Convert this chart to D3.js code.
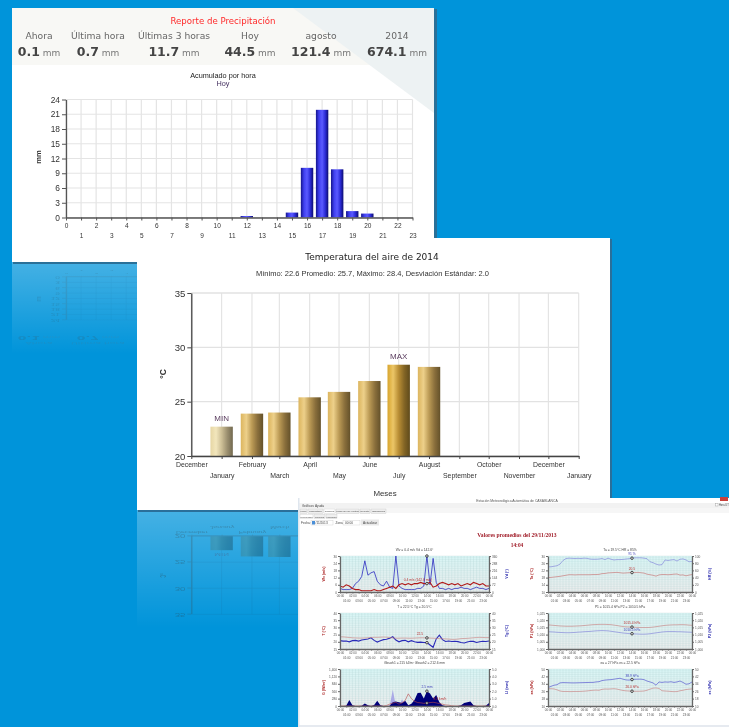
<!DOCTYPE html>
<html>
<head>
<meta charset="utf-8">
<script src="https://cdnjs.cloudflare.com/ajax/libs/d3/7.8.5/d3.min.js"></script>
<style>
html, body { margin: 0; padding: 0; background: #0094da; overflow: hidden; }
svg { display: block; font-family: "Liberation Sans", Arial, sans-serif; filter: blur(0.35px); }
</style>
</head>
<body>
<div id="my_dataviz"></div>
<script>
// precipitation report
var rain_labels = ["Ahora", "Última hora", "Últimas 3 horas", "Hoy", "agosto", "2014"];
var rain_totals = ["0.1", "0.7", "11.7", "44.5", "121.4", "674.1"];
var rain_hours = [12, 15, 16, 17, 18, 19, 20];
var rain_values = [0.3, 1.0, 10.1, 21.9, 9.8, 1.3, 0.8];
var rain_y_ticks = [0, 3, 6, 9, 12, 15, 18, 21, 24];

// air temperature
var temp_tick_dates = ["2013-12-01", "2014-01-01", "2014-02-01", "2014-03-01", "2014-04-01", "2014-05-01", "2014-06-01",
  "2014-07-01", "2014-08-01", "2014-09-01", "2014-10-01", "2014-11-01", "2014-12-01", "2015-01-01"];
var temp_tick_labels = ["December", "January", "February", "March", "April", "May", "June",
  "July", "August", "September", "October", "November", "December", "January"];
var temp_dates = ["2014-01-01", "2014-02-01", "2014-03-01", "2014-04-01", "2014-05-01", "2014-06-01", "2014-07-01", "2014-08-01"];
var temp_values = [22.7, 23.9, 24.0, 25.4, 25.9, 26.9, 28.4, 28.2];
var temp_y_ticks = [20, 25, 30, 35];

// screenshot charts, one reading every half hour from 00:00 to 24:00
var wind_speed = [5,4,6,5,3,2,2,1,1,1,1,2,1,1,2,3,4,5,3,6,7,6,7,6,7,7,8,7,7,8,4,5,7,8,7,6,7,6,7,5,6,7,6,8,7,6,7,5,5];
var wind_dir = [36,24,24,24,36,84,108,156,312,168,192,204,108,72,60,108,48,36,360,60,36,24,24,24,24,36,36,60,360,72,336,96,36,36,24,36,24,36,36,48,36,36,24,36,48,36,36,24,36];
var air_temp = [18,18.1,18.3,18.5,18.7,19,19.3,19.6,19.6,19.5,19.6,19.6,19.6,19.6,19.6,19.7,19.7,19.8,20.2,20.3,20.6,20.7,20.8,20.9,20.7,20.5,20.6,20.7,20.8,20.8,20.9,20.7,20.5,19.9,19.6,19.3,18.8,19.5,19.7,19.7,19.6,19.7,19.9,20,19.4,19.5,19,19.4,19.7];
var humidity = [70,70,71.5,73,77.5,87.5,93,94,93.5,93,93.5,93,94,93.5,91.5,91,91,91.5,93,90,94,91,89,90,90,90.5,91.5,92.5,94,95,95,95,94,92.5,84,81.5,77.5,75,76,89,87.5,89,90,86,91,92,89,84,85];
var glass_temp = [23.4,23.4,23.2,23,22.8,22.7,22.6,22.6,22.7,22.8,23,23.1,23.1,23.2,23.3,23.2,23,22.7,22.5,22.5,22.6,22.6,22.5,22.5,22.6,22.7,22.8,22.8,22.7,22.6,22.5,22.4,22.2,22.1,22,21.9,21.7,21.7,21.9,22.2,22.3,22.4,22.6,22.8,23,23.1,23,22.9,22.9];
var glass_hum = [20.8,20.5,20.6,20,20.8,21,20.5,21.2,21.6,22,22.8,21,19.8,20.8,21.5,21.8,22.5,23.5,21.2,20,20.8,21,20,20.8,20,19.6,19.8,19.5,19.4,17.8,16.2,22,24.6,21.5,20.2,20.5,20.2,20.4,20.1,19.5,19.2,19.8,20.4,20.3,19.5,20,20.4,20.2,20.6];
var press_one = [1016.8,1016.6,1016.4,1016.2,1016,1015.9,1015.8,1015.8,1015.8,1015.9,1016,1016.1,1016.3,1016.5,1016.7,1016.9,1017,1017.1,1017.1,1017.1,1017,1016.9,1016.6,1016.3,1015.9,1015.6,1015.4,1015.3,1015.2,1015.1,1015,1014.9,1014.9,1014.9,1015,1015.2,1015.5,1015.8,1016.1,1016.4,1016.6,1016.7,1016.8,1016.8,1016.9,1016.9,1016.8,1016.6,1016.5];
var press_two = [1012,1011.9,1011.8,1011.6,1011.5,1011.4,1011.3,1011.3,1011.4,1011.5,1011.7,1011.8,1012,1012.1,1012.2,1012.4,1012.6,1012.7,1012.8,1012.7,1012.6,1012.3,1012,1011.7,1011.4,1011.1,1010.9,1010.7,1010.6,1010.5,1010.4,1010.3,1010.3,1010.4,1010.6,1010.9,1011.2,1011.5,1011.8,1012,1012.1,1012.1,1012.1,1012,1012,1011.9,1011.8,1011.7,1011.6];
var solar_rad = [0,0,0,0,0,0,0,0,0,0,0,0,0,0,0,20,70,110,140,70,120,210,460,280,180,130,120,100,110,130,140,120,90,70,40,30,10,0,0,0,0,0,0,0,0,0,0,0,0];
var rain_rate = [0,0,0.05,0.8,0.1,0,0,0.05,0.35,0.1,0,0.15,0.7,0.1,0,0,0.05,0.5,0.6,0.5,0.4,0.7,0.1,0.3,0.8,1.75,1.8,1,2,1.7,1,1.5,0.5,0.1,0,0,0,0,0,0.1,0.4,0.5,0.6,0.1,0,0,0,0.05,0.4];
var rain_gust = [0,0,0,0,0,0,0,0,0,0,0,0,0,0,0,0,0,2.2,0,0,0.9,0,0,0,0,0,0,0,0,0,0,0,0,0,0,0,0,0,0,0,0,0,0,0,0,0,0,0,0];
var vap_act = [28.7,28.7,28.5,27.5,26.2,25.7,25.7,25.6,25.6,25.7,25.7,25.8,26,26.3,26.7,27,27.2,27,28,28.4,28.3,28.5,28.7,28.3,27.5,26.8,26.4,26.2,26,25.9,25.9,26,26.2,27,28.2,29.3,29.5,29,26.5,26.2,26,25.7,25.5,25.6,26.5,27,27.8,28.2,28.5];
var vap_sat = [30,31.2,32.5,33,35,35.3,35.2,35.1,35,35,35.1,35.2,35.3,35.4,35.5,35.5,36,36.3,37.5,38,38.3,38.5,39,39.5,40,39,38.2,38,38.6,38.9,39,39,38.5,37,36,35,32.5,36,35.5,36,35.8,36.2,35.5,36,37,35.5,33.5,34,36];

var mini_titles = ["Wv = 0.4 m/s  Vd = 142.6°", "Ta = 19.5°C  HR = 85%", "T = 22.5°C  Tg = 20.5°C", "P1 = 1015.4 hPa  P2 = 1010.5 hPa", "Gbuoh1 = 215 kJ/m²  Gbuoh2 = 212.6 mm", "ea = 27 hPa  es = 22.5 hPa"];
var mini_hours = ["00:00","01:00","02:00","03:00","04:00","05:00","06:00","07:00","08:00","09:00","10:00","11:00","12:00","13:00","14:00","15:00","16:00","17:00","18:00","19:00","20:00","21:00","22:00","23:00","00:00"];
var tab_labels = ["Inicio", "Laboratorio", "Gráficos", "Mapa de los Vientos", "Reporte", "Información"];
var subtab_labels = ["Promedios", "Mínimos", "Máximos"];

var svg = d3.select("#my_dataviz").append("svg").attr("width", 729).attr("height", 727);
var defs = svg.append("defs");

function barGradient(id, colors) {
  var g = defs.append("linearGradient").attr("id", id);
  colors.forEach(function (c, i) {
    g.append("stop").attr("offset", (i / (colors.length - 1) * 100) + "%").attr("stop-color", c);
  });
}
barGradient("blue_bar", ["#14148c", "#3f3ff0", "#5a5aff", "#2c2cd8", "#0c0c70"]);
barGradient("gold_bar", ["#dcb55e", "#edd08a", "#bb9a55", "#8a6f3c", "#64512a"]);
barGradient("gold_min", ["#e6d6a4", "#f2e6bc", "#cdbf96", "#9c9070", "#72694f"]);
barGradient("gold_max", ["#d8a52d", "#ecc667", "#b88d34", "#836525", "#5f4a1b"]);
barGradient("mirror_bar", ["#4c6a5a", "#5a7a68", "#30483c", "#1a2c28", "#0c1c20"]);

var glow = defs.append("linearGradient").attr("id", "glow").attr("x2", 0).attr("y2", 1);
glow.append("stop").attr("offset", "0%").attr("stop-color", "#fff").attr("stop-opacity", 0.27);
glow.append("stop").attr("offset", "100%").attr("stop-color", "#fff").attr("stop-opacity", 0);

var plot_bg = defs.append("linearGradient").attr("id", "plot_bg").attr("x2", 0).attr("y2", 1);
plot_bg.append("stop").attr("offset", "0%").attr("stop-color", "#dcf8f8");
plot_bg.append("stop").attr("offset", "100%").attr("stop-color", "#efefef");

function cleanAxis(a, color) {
  a.selectAll("path").attr("stroke", color).attr("stroke-width", 1.3);
  a.selectAll("line").attr("stroke", color);
  a.selectAll("text").attr("fill", "#333").attr("font-family", "inherit");
}

// ---- report with the hourly rain bars
function drawPrecip(g) {
  var col_x = [39, 98, 174, 250, 321, 397];

  g.selectAll(".rl").data(rain_labels).enter().append("text")
    .attr("x", function (d, i) { return col_x[i]; }).attr("y", 39).attr("text-anchor", "middle")
    .attr("font-family", "DejaVu Sans").attr("font-size", 9.2).attr("fill", "#666").text(function (d) { return d; });

  var vals = g.selectAll(".rv").data(rain_totals).enter().append("text")
    .attr("x", function (d, i) { return col_x[i]; }).attr("y", 56).attr("text-anchor", "middle")
    .attr("font-family", "DejaVu Sans").attr("fill", "#444");
  vals.append("tspan").attr("font-size", 12.5).attr("font-weight", "bold").text(function (d) { return d; });
  vals.append("tspan").attr("font-size", 9).attr("fill", "#777").text(" mm");

  g.append("text").attr("x", 223).attr("y", 23.5).attr("text-anchor", "middle").attr("font-family", "DejaVu Sans")
    .attr("font-size", 8.6).attr("fill", "#ff2a2a").text("Reporte de Precipitación");
  g.append("text").attr("x", 223).attr("y", 78).attr("text-anchor", "middle").attr("font-size", 7.3).attr("fill", "#222").text("Acumulado por hora");
  g.append("text").attr("x", 223).attr("y", 86).attr("text-anchor", "middle").attr("font-size", 7.3).attr("fill", "#443060").text("Hoy");

  var x = d3.scaleLinear().domain([0, 23]).range([66, 412.5]);
  var y = d3.scaleLinear().domain([0, 24]).range([217.5, 99.5]);

  g.selectAll(".gx").data(d3.range(0, 24)).enter().append("line").attr("class", "grid")
    .attr("x1", function (d) { return x(d); }).attr("x2", function (d) { return x(d); })
    .attr("y1", y(24)).attr("y2", y(0)).attr("stroke", "#e4e4e4").attr("stroke-width", 1.2);
  g.selectAll(".gy").data(rain_y_ticks).enter().append("line").attr("class", "grid")
    .attr("x1", x(0)).attr("x2", x(23))
    .attr("y1", function (d) { return y(d); }).attr("y2", function (d) { return y(d); })
    .attr("stroke", "#e4e4e4").attr("stroke-width", 1.2);

  g.selectAll(".bar").data(rain_values).enter().append("rect").attr("class", "bar")
    .attr("x", function (d, i) { return x(rain_hours[i]) - 6.2; })
    .attr("y", function (d) { return y(d); })
    .attr("width", 12.4)
    .attr("height", function (d) { return y(0) - y(d); })
    .attr("fill", "url(#blue_bar)");

  var ax = g.append("g").attr("transform", "translate(0," + y(0) + ")")
    .call(d3.axisBottom(x).tickValues(d3.range(0, 24)).tickFormat(d3.format("d")).tickSize(3).tickSizeOuter(0));
  cleanAxis(ax, "#555");
  ax.selectAll("text").attr("font-size", 6.5).attr("y", function (d) { return d % 2 ? 16 : 6; });

  var ay = g.append("g").attr("transform", "translate(" + x(0) + ",0)")
    .call(d3.axisLeft(y).tickValues(rain_y_ticks).tickSize(4).tickSizeOuter(0).tickPadding(2));
  cleanAxis(ay, "#555");
  ay.selectAll("text").attr("font-size", 8.4);

  g.append("text").attr("transform", "translate(40.5,157) rotate(-90)").attr("text-anchor", "middle")
    .attr("font-size", 7.6).attr("font-weight", "bold").attr("fill", "#333").text("mm");
}

// ---- monthly temperature bars
function drawTemp(g) {
  var parse = d3.utcParse("%Y-%m-%d");
  var tick_dates = temp_tick_dates.map(parse);

  g.append("text").attr("x", 372).attr("y", 259.5).attr("text-anchor", "middle").attr("font-family", "DejaVu Sans")
    .attr("font-size", 9).attr("fill", "#222").text("Temperatura del aire de 2014");
  g.append("text").attr("x", 372.5).attr("y", 276).attr("text-anchor", "middle")
    .attr("font-size", 7.5).attr("fill", "#333").text("Mínimo: 22.6 Promedio: 25.7, Máximo: 28.4, Desviación Estándar: 2.0");

  var x = d3.scaleUtc().domain([tick_dates[0], tick_dates[13]]).range([191.3, 578.7]);
  var y = d3.scaleLinear().domain([20, 35]).range([456, 293]);

  g.selectAll(".gx").data(tick_dates).enter().append("line").attr("class", "grid")
    .attr("x1", function (d) { return x(d); }).attr("x2", function (d) { return x(d); })
    .attr("y1", y(35)).attr("y2", y(20)).attr("stroke", "#e2e2e2").attr("stroke-width", 1.1);
  g.selectAll(".gy").data(temp_y_ticks).enter().append("line").attr("class", "grid")
    .attr("x1", x(tick_dates[0])).attr("x2", x(tick_dates[13]))
    .attr("y1", function (d) { return y(d); }).attr("y2", function (d) { return y(d); })
    .attr("stroke", "#e2e2e2").attr("stroke-width", 1.4);

  var low = d3.min(temp_values), high = d3.max(temp_values);
  g.selectAll(".bar").data(temp_values).enter().append("rect").attr("class", "bar")
    .attr("x", function (d, i) { return x(parse(temp_dates[i])) - 11.2; })
    .attr("y", function (d) { return y(d); })
    .attr("width", 22.4)
    .attr("height", function (d) { return y(20) - y(d); })
    .attr("fill", function (d) { return d == low ? "url(#gold_min)" : d == high ? "url(#gold_max)" : "url(#gold_bar)"; });

  g.selectAll(".mm").data(temp_values.filter(function (d) { return d == low || d == high; })).enter().append("text")
    .attr("x", function (d) { return x(parse(temp_dates[temp_values.indexOf(d)])); })
    .attr("y", function (d) { return y(d) - 6; })
    .attr("text-anchor", "middle").attr("font-size", 8).attr("fill", "#5a3c5e")
    .text(function (d) { return d == low ? "MIN" : "MAX"; });

  var ax = g.append("g").attr("transform", "translate(0," + y(20) + ")")
    .call(d3.axisBottom(x).tickValues(tick_dates).tickFormat(function (d) { return temp_tick_labels[tick_dates.indexOf(d)]; }).tickSize(3).tickSizeOuter(0));
  cleanAxis(ax, "#444");
  ax.selectAll("text").attr("font-size", 6.9).attr("y", function (d, i) { return i % 2 ? 17 : 6; });

  var ay = g.append("g").attr("transform", "translate(" + x(tick_dates[0]) + ",0)")
    .call(d3.axisLeft(y).tickValues(temp_y_ticks).tickSize(4).tickSizeOuter(0).tickPadding(2));
  cleanAxis(ay, "#444");
  ay.selectAll("text").attr("font-size", 9.6);

  g.append("text").attr("x", 385).attr("y", 496).attr("text-anchor", "middle").attr("font-size", 7.9).attr("fill", "#333").text("Meses");
  g.append("text").attr("transform", "translate(166,374) rotate(-90)").attr("text-anchor", "middle")
    .attr("font-size", 8.5).attr("font-weight", "bold").attr("fill", "#333").text("°C");
}

// faint upside down copy: drop the texts that would sit behind the window in front, darken the grid
function fadeMirror(m, right_limit) {
  m.selectAll("text").filter(function () { return this.getBoundingClientRect().right > right_limit; }).remove();
  m.selectAll("line.grid").attr("stroke", "#1c5f88").attr("stroke-width", 0.6);
}

// ---- one small chart of the screenshot
function drawMini(o) {
  var g = shot.append("g");
  var x = d3.scaleLinear().domain([0, 24]).range([o.x0, o.x1]);
  var y1 = d3.scaleLinear().domain(o.left).range([o.y1, o.y0]);
  var y2 = d3.scaleLinear().domain(o.right).range([o.y1, o.y0]);

  g.append("rect").attr("x", o.x0).attr("y", o.y0).attr("width", o.x1 - o.x0).attr("height", o.y1 - o.y0).attr("fill", "url(#plot_bg)");

  g.selectAll(".gx").data(d3.range(0, 24.1, 0.5)).enter().append("line")
    .attr("x1", function (d) { return x(d); }).attr("x2", function (d) { return x(d); })
    .attr("y1", o.y0).attr("y2", o.y1).attr("stroke", "#a8d0d0").attr("stroke-width", 0.25);
  g.selectAll(".gy").data(d3.range(0, 20.5)).enter().append("line")
    .attr("x1", o.x0).attr("x2", o.x1)
    .attr("y1", function (d) { return o.y0 + d * (o.y1 - o.y0) / 20; }).attr("y2", function (d) { return o.y0 + d * (o.y1 - o.y0) / 20; })
    .attr("stroke", "#a8d0d0").attr("stroke-width", 0.25);

  var line = function (scale) {
    return d3.line().x(function (d, i) { return x(i / 2); }).y(function (d) { return scale(d); });
  };
  if (o.area) {
    var rain_area = d3.area().x(function (d, i) { return x(i / 2); }).y0(o.y1).y1(function (d) { return y2(d); });
    g.append("path").datum(o.pale).attr("fill", "#a9a9e6").attr("d", rain_area);
    g.append("path").datum(o.blue).attr("fill", "#00007a").attr("d", rain_area);
  } else {
    g.append("path").datum(o.blue).attr("fill", "none").attr("stroke", o.blue_color).attr("stroke-width", o.blue_w)
      .attr("d", line(y2));
  }
  g.append("path").datum(o.red).attr("fill", "none").attr("stroke", o.red_color).attr("stroke-width", o.red_w)
    .attr("d", line(y1));

  var ticks = d3.range(0, 25);
  var ax = g.append("g").attr("transform", "translate(0," + o.y1 + ")")
    .call(d3.axisBottom(x).tickValues(ticks).tickFormat(function (d) { return mini_hours[d]; }).tickSize(1.5).tickSizeOuter(0));
  cleanAxis(ax, "#666");
  ax.selectAll("text").attr("font-size", 3).attr("y", function (d) { return d % 2 ? 7.5 : 3; }).attr("fill", "#555");

  var al = g.append("g").attr("transform", "translate(" + o.x0 + ",0)")
    .call(d3.axisLeft(y1).tickValues(d3.range(0, 6).map(function (i) { return o.left[0] + i * (o.left[1] - o.left[0]) / 5; })).tickSize(2).tickSizeOuter(0).tickPadding(1));
  cleanAxis(al, "#666");
  al.selectAll("text").attr("font-size", 3.2).attr("fill", "#555");

  var ar = g.append("g").attr("transform", "translate(" + o.x1 + ",0)")
    .call(d3.axisRight(y2).tickValues(d3.range(0, 6).map(function (i) { return o.right[0] + i * (o.right[1] - o.right[0]) / 5; })).tickSize(2).tickSizeOuter(0).tickPadding(1));
  cleanAxis(ar, "#666");
  ar.selectAll("text").attr("font-size", 3.2).attr("fill", "#555");

  g.append("text").attr("x", (o.x0 + o.x1) / 2).attr("y", o.y0 - 5).attr("text-anchor", "middle")
    .attr("font-size", 3.3).attr("fill", "#444").text(o.title);
  g.append("text").attr("transform", "translate(" + (o.x0 - 15) + "," + ((o.y0 + o.y1) / 2) + ") rotate(-90)").attr("text-anchor", "middle")
    .attr("font-size", 3.6).attr("font-weight", "bold").attr("fill", "#a22").text(o.left_name);
  g.append("text").attr("transform", "translate(" + (o.x1 + 19) + "," + ((o.y0 + o.y1) / 2) + ") rotate(-90)").attr("text-anchor", "middle")
    .attr("font-size", 3.6).attr("font-weight", "bold").attr("fill", "#22a").text(o.right_name);

  // cursor at 14:00
  var ry = y1(o.red[28]), by = y2(o.blue[28]);
  g.append("circle").attr("cx", x(14)).attr("cy", ry).attr("r", 1.3).attr("fill", "#ddd").attr("stroke", "#111").attr("stroke-width", 0.7);
  g.append("circle").attr("cx", x(14)).attr("cy", by).attr("r", 1.3).attr("fill", "#ddd").attr("stroke", "#111").attr("stroke-width", 0.7);
  g.append("text").attr("x", x(14) + o.red_dx).attr("y", ry - 3).attr("text-anchor", "middle").attr("font-size", 3.3).attr("fill", "#b33").text(o.red_text);
  g.append("text").attr("x", x(14)).attr("y", by - 3).attr("text-anchor", "middle").attr("font-size", 3.3).attr("fill", "#44b").text(o.blue_text);
}

// ---- page background and the glass reflections under the windows
svg.append("rect").attr("width", 729).attr("height", 727).attr("fill", "#0094da");

svg.append("rect").attr("x", 12).attr("y", 262).attr("width", 425).attr("height", 92).attr("fill", "url(#glow)");
var mirror_one = svg.append("g").attr("transform", "translate(0,356.2) scale(1,-0.364)").attr("opacity", 0.16);
drawPrecip(mirror_one);
fadeMirror(mirror_one, 137);

svg.append("rect").attr("x", 137).attr("y", 510).attr("width", 475).attr("height", 118).attr("fill", "url(#glow)");
var mirror_two = svg.append("g").attr("transform", "translate(0,755) scale(1,-0.48)").attr("opacity", 0.28);
drawTemp(mirror_two);
fadeMirror(mirror_two, 298);
mirror_two.selectAll("rect.bar").attr("fill", "url(#mirror_bar)");

// ---- precipitation window
svg.append("rect").attr("x", 13).attr("y", 9).attr("width", 424).attr("height", 255).attr("fill", "#2a7098");
svg.append("rect").attr("x", 12).attr("y", 8).attr("width", 422).attr("height", 254).attr("fill", "#fff");
svg.append("rect").attr("x", 12).attr("y", 8).attr("width", 422).attr("height", 57).attr("fill", "#f8f8f5");
svg.append("path").attr("d", "M293,8 L434,8 L434,113 Z").attr("fill", "#edf2f3");
drawPrecip(svg.append("g"));

// ---- temperature window
svg.append("rect").attr("x", 138).attr("y", 239).attr("width", 474).attr("height", 273).attr("fill", "#2a6f9a");
svg.append("rect").attr("x", 137).attr("y", 238).attr("width", 473).attr("height", 272).attr("fill", "#fff");
drawTemp(svg.append("g"));

// ---- application screenshot
var shot = svg.append("g").style("filter", "blur(0.25px)");
shot.append("rect").attr("x", 298).attr("y", 498).attr("width", 431).attr("height", 229).attr("fill", "#fff");
shot.append("rect").attr("x", 299).attr("y", 503).attr("width", 430).attr("height", 5).attr("fill", "#f2f2f2");
shot.append("rect").attr("x", 299).attr("y", 508).attr("width", 430).attr("height", 5).attr("fill", "#f6f6f6");
shot.append("rect").attr("x", 298).attr("y", 725).attr("width", 431).attr("height", 2).attr("fill", "#e6eaf0");
shot.append("rect").attr("x", 298).attr("y", 498).attr("width", 1.5).attr("height", 229).attr("fill", "#dfe6ee");
shot.append("rect").attr("x", 720).attr("y", 497).attr("width", 8).attr("height", 4).attr("fill", "#c9403a");

shot.append("text").attr("x", 517).attr("y", 501.5).attr("text-anchor", "middle").attr("font-size", 3.4).attr("fill", "#555")
  .text("Estación Meteorológica Automática de CASABLANCA");
shot.append("text").attr("x", 302).attr("y", 507).attr("font-size", 3.2).attr("fill", "#444").text("Gráficos");
shot.append("text").attr("x", 315).attr("y", 507).attr("font-size", 3.2).attr("fill", "#444").text("Ayuda");
shot.append("rect").attr("x", 715.5).attr("y", 503.5).attr("width", 2.5).attr("height", 2.5).attr("fill", "#fff").attr("stroke", "#999").attr("stroke-width", 0.4);
shot.append("text").attr("x", 719).attr("y", 506).attr("font-size", 2.6).attr("fill", "#444").text("Hora UT");

var tab_x = [300, 308, 324, 336, 360, 371];
var tab_w = [7, 15, 11, 23, 10, 15];
shot.selectAll(".tab").data(tab_labels).enter().append("rect").attr("x", function (d, i) { return tab_x[i]; }).attr("y", 509)
  .attr("width", function (d, i) { return tab_w[i]; }).attr("height", 4.5).attr("fill", function (d, i) { return i == 2 ? "#fff" : "#efefef"; }).attr("stroke", "#bbb").attr("stroke-width", 0.3);
shot.selectAll(".tabt").data(tab_labels).enter().append("text").attr("x", function (d, i) { return tab_x[i] + tab_w[i] / 2; }).attr("y", 512.4)
  .attr("text-anchor", "middle").attr("font-size", 2.5).attr("fill", "#444").text(function (d) { return d; });

var sub_x = [300, 314, 326];
var sub_w = [13, 11, 11];
shot.selectAll(".stab").data(subtab_labels).enter().append("rect").attr("x", function (d, i) { return sub_x[i]; }).attr("y", 514.5)
  .attr("width", function (d, i) { return sub_w[i]; }).attr("height", 4).attr("fill", function (d, i) { return i == 0 ? "#fff" : "#f0f0f0"; }).attr("stroke", "#bbb").attr("stroke-width", 0.3);
shot.selectAll(".stabt").data(subtab_labels).enter().append("text").attr("x", function (d, i) { return sub_x[i] + sub_w[i] / 2; }).attr("y", 517.6)
  .attr("text-anchor", "middle").attr("font-size", 2.5).attr("fill", "#444").text(function (d) { return d; });

shot.append("text").attr("x", 301).attr("y", 524).attr("font-size", 3.2).attr("fill", "#444").text("Fecha:");
shot.append("rect").attr("x", 311).attr("y", 520.5).attr("width", 22).attr("height", 4.5).attr("fill", "#fff").attr("stroke", "#bbb").attr("stroke-width", 0.3);
shot.append("rect").attr("x", 312).attr("y", 521).attr("width", 3).attr("height", 3.5).attr("fill", "#4a8fd8");
shot.append("text").attr("x", 315.5).attr("y", 524).attr("font-size", 3.2).attr("fill", "#444").text("/11/2013");
shot.append("text").attr("x", 335.5).attr("y", 524).attr("font-size", 3.2).attr("fill", "#444").text("Zona:");
shot.append("rect").attr("x", 343).attr("y", 520.5).attr("width", 17).attr("height", 4.5).attr("fill", "#fff").attr("stroke", "#bbb").attr("stroke-width", 0.3);
shot.append("text").attr("x", 345).attr("y", 524).attr("font-size", 3.2).attr("fill", "#444").text("00:00");
shot.append("rect").attr("x", 361).attr("y", 519.5).attr("width", 18).attr("height", 6).attr("fill", "#e9e9e9");
shot.append("text").attr("x", 370).attr("y", 524).attr("text-anchor", "middle").attr("font-size", 3.2).attr("fill", "#444").text("Actualizar");

shot.append("text").attr("x", 517).attr("y", 537).attr("text-anchor", "middle").attr("font-family", "Liberation Serif").attr("font-weight", "bold")
  .attr("font-size", 5.6).attr("fill", "#a01c28").text("Valores promedios del 29/11/2013");
shot.append("text").attr("x", 517).attr("y", 547).attr("text-anchor", "middle").attr("font-family", "Liberation Serif").attr("font-weight", "bold")
  .attr("font-size", 5.4).attr("fill", "#a01c28").text("14:04");

var left_col = [340, 489], right_col = [548, 692];
drawMini({ x0: left_col[0], x1: left_col[1], y0: 556, y1: 592, left: [0, 30], right: [0, 360], red: wind_speed, blue: wind_dir,
  red_color: "#b01818", blue_color: "#2c2cc0", red_w: 1.1, blue_w: 0.8, title: mini_titles[0], left_name: "Wv (m/s)", right_name: "Vd (°)", red_text: "0.4 m/s (142.6 m/s)", red_dx: -9, blue_text: "" });
drawMini({ x0: right_col[0], x1: right_col[1], y0: 556, y1: 592, left: [10, 30], right: [0, 100], red: air_temp, blue: humidity,
  red_color: "#c86a6a", blue_color: "#7a7ad8", red_w: 0.6, blue_w: 0.6, title: mini_titles[1], left_name: "Ta (°C)", right_name: "HR (%)", red_text: "20.5", red_dx: 0, blue_text: "91 %" });
drawMini({ x0: left_col[0], x1: left_col[1], y0: 613, y1: 649, left: [15, 40], right: [15, 40], red: glass_temp, blue: glass_hum,
  red_color: "#c87a7a", blue_color: "#2a2ab8", red_w: 0.6, blue_w: 1.1, title: mini_titles[2], left_name: "T (°C)", right_name: "Tg (°C)", red_text: "22.5", red_dx: -7, blue_text: "" });
drawMini({ x0: right_col[0], x1: right_col[1], y0: 613, y1: 649, left: [1000, 1025], right: [1000, 1025], red: press_one, blue: press_two,
  red_color: "#c87a7a", blue_color: "#7a7ad8", red_w: 0.6, blue_w: 0.6, title: mini_titles[3], left_name: "P1 (hPa)", right_name: "P2 (hPa)", red_text: "1015.4 hPa", red_dx: 0, blue_text: "1010.5 hPa" });
drawMini({ x0: left_col[0], x1: left_col[1], y0: 669, y1: 706, left: [0, 1400], right: [0, 5], red: solar_rad, blue: rain_rate, pale: rain_gust, area: true,
  red_color: "#b84a4a", blue_color: "#00007a", red_w: 0.6, blue_w: 0.6, title: mini_titles[4], left_name: "G (W/m²)", right_name: "Ll (mm)", red_text: "8.3 km/h", red_dx: 13, blue_text: "2.5 mm" });
drawMini({ x0: right_col[0], x1: right_col[1], y0: 669, y1: 706, left: [10, 50], right: [10, 50], red: vap_act, blue: vap_sat,
  red_color: "#c87a7a", blue_color: "#5a5ad0", red_w: 0.6, blue_w: 0.7, title: mini_titles[5], left_name: "ea (hPa)", right_name: "es (hPa)", red_text: "26.0 hPa", red_dx: 0, blue_text: "38.9 hPa" });
</script>
</body>
</html>
